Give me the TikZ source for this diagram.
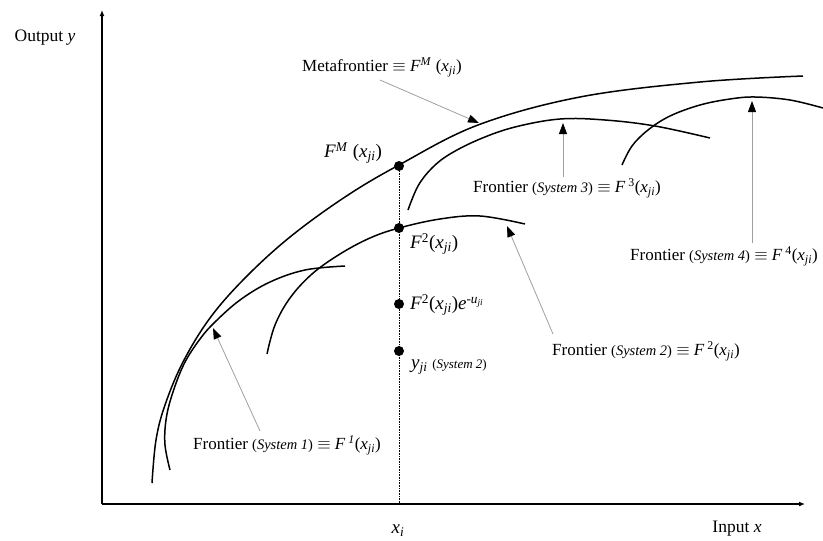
\documentclass[tikz,border=0pt]{standalone}
\usepackage{fontspec}
\setmainfont{Liberation Serif}
\usetikzlibrary{arrows.meta}
\newcommand\Xji{\textit{x}\textsubscript{\textit{ji}}}
\newcommand\Sysn[1]{{\fontsize{14.5}{16}\selectfont(\textit{System #1})}}
\begin{document}
\begin{tikzpicture}[x=1pt,y=-1pt,
  lbl/.style={inner sep=0pt,font=\fontsize{17}{19}\selectfont},
  ptlbl/.style={inner sep=0pt,font=\fontsize{19}{21}\selectfont},
  axislbl/.style={inner sep=0pt,font=\fontsize{17.5}{20}\selectfont},
  frontier/.style={line width=1.5pt,black},
  axisline/.style={line width=1.6pt,-{Latex[length=6pt,width=5pt]}},
  pointer/.style={line width=0.8pt,gray!75,-{Triangle[length=11pt,width=8pt,black]}},
  dotpt/.style={circle,fill=black,inner sep=0pt,minimum size=10pt},
  guide/.style={line width=0.6pt,densely dotted}]
\useasboundingbox (0,0) rectangle (823,541);
% axes
\coordinate (O) at (102,504);
\coordinate (ytop) at (102,10);
\coordinate (xend) at (805,504);
\draw[axisline] (O) -- (ytop);
\draw[axisline] (O) -- (xend);
\node[axislbl] (ylab) at (45,38) {Output \textit{y}};
\node[axislbl] (xlab) at (737,529) {Input \textit{x}};
\node[ptlbl] (xi) at (398,531) {\textit{x}\textsubscript{\textit{i}}};
% curves
\draw[frontier] plot[smooth,tension=0.6] coordinates {(152,483) (156,440) (165,405) (183,362) (210,318) (245,278) (290,237) (345,197) (399,165) (478,125) (580,97) (700,82) (803,76)};
\draw[frontier] plot[smooth,tension=0.6] coordinates {(170,470) (165,445) (166,420) (172,395) (184,364) (200,339) (215,322) (240,300) (270,282) (305,270) (345,266)};
\draw[frontier] plot[smooth,tension=0.6] coordinates {(267,354) (275,325) (290,298) (312,274) (340,254) (370,238) (399,228) (440,219) (480,216) (525,224)};
\draw[frontier] plot[smooth,tension=0.6] coordinates {(408,210) (418,186) (432,168) (450,154) (480,139) (515,127) (560,119) (605,120) (655,126) (710,138)};
\draw[frontier] plot[smooth,tension=0.6] coordinates {(622,165) (632,146) (648,130) (670,116) (700,105) (730,99) (755,97) (790,100) (823,108)};
% vertical guide and points
\coordinate (gbot) at (399,504);
\node[dotpt] (pM) at (399,166) {};
\node[dotpt] (p2) at (399,228) {};
\node[dotpt] (p2e) at (399,304) {};
\node[dotpt] (py) at (399,351) {};
\draw[guide] (pM) -- (gbot);
% point labels
\node[ptlbl,anchor=west] (lM) at (324,153) {\textit{F}\textsuperscript{\textit{M}} (\Xji)};
\node[ptlbl,anchor=west] (l2) at (410,244) {\textit{F}\textsuperscript{2}(\Xji)};
\node[ptlbl,anchor=west] (l2e) at (410,305) {\textit{F}\textsuperscript{2}(\Xji)\textit{e}\textsuperscript{-\textit{u}\textsubscript{\textit{ji}}}};
\node[ptlbl,anchor=west] (ly) at (411,367) {\textit{y}\textsubscript{\textit{ji}} {\fontsize{13}{15}\selectfont(\textit{System 2})}};
% frontier labels
\node[lbl,anchor=west] (lmeta) at (302,67) {Metafrontier $\equiv$ \textit{F}\textsuperscript{\textit{M}} (\Xji)};
\node[lbl,anchor=west] (l1) at (193,445) {Frontier \Sysn{1} $\equiv$ \textit{F}\,\textsuperscript{\textit{1}}(\Xji)};
\node[lbl,anchor=west] (ls2) at (552,351) {Frontier \Sysn{2} $\equiv$ \textit{F}\,\textsuperscript{2}(\Xji)};
\node[lbl,anchor=west] (ls3) at (473,188) {Frontier \Sysn{3} $\equiv$ \textit{F}\,\textsuperscript{3}(\Xji)};
\node[lbl,anchor=west] (ls4) at (630,256) {Frontier \Sysn{4} $\equiv$ \textit{F}\,\textsuperscript{4}(\Xji)};
% pointer arrows
\coordinate (tM) at (380,80);   \coordinate (hM) at (479,123);
\coordinate (t1) at (260,431);  \coordinate (h1) at (213,328);
\coordinate (t2) at (553,334);  \coordinate (h2) at (507,226);
\coordinate (t3) at (563,177);  \coordinate (h3) at (563,123);
\coordinate (t4) at (752,243);  \coordinate (h4) at (752,101);
\draw[pointer] (tM) -- (hM);
\draw[pointer] (t1) -- (h1);
\draw[pointer] (t2) -- (h2);
\draw[pointer] (t3) -- (h3);
\draw[pointer] (t4) -- (h4);
\end{tikzpicture}
\end{document}
